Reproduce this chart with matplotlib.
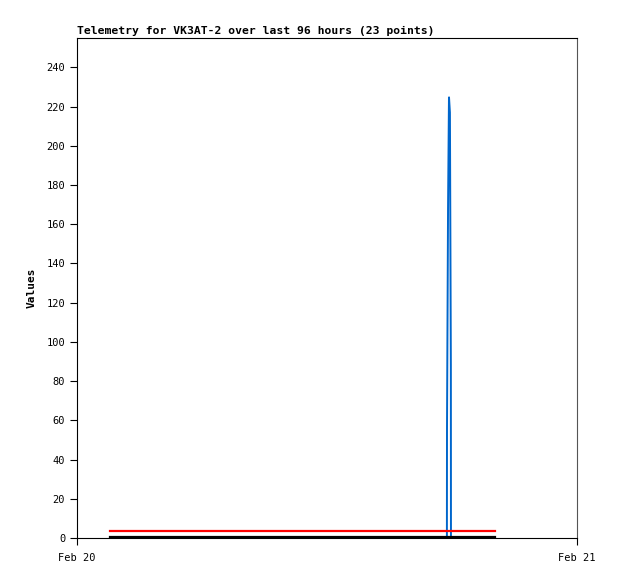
import matplotlib
matplotlib.use('Agg')
import matplotlib.pyplot as plt

# hours after Feb 20 00:00 for each telemetry point (23 points)
hours = [1.58, 3.0, 4.5, 6.0, 7.5, 9.0, 10.5, 12.0, 13.5, 15.0, 16.5, 17.2,
         17.755, 17.76, 17.81, 17.855, 17.90, 17.945, 17.95, 18.6, 19.2, 19.6, 20.06]
blue_vals = [0, 0, 0, 0, 0, 0, 0, 0, 0, 0, 0, 0,
             0, 56, 168, 225, 217, 88, 0, 0, 0, 0, 0]
red_vals = [3.7] * 23
black_vals = [0.4] * 23

x_ticks = [0, 24]
x_labels = ['Feb 20', 'Feb 21']
y_ticks = list(range(0, 241, 20))

plt.rcParams['font.family'] = 'DejaVu Sans Mono'

fig = plt.figure(figsize=(6.18, 5.79), dpi=100)
ax = fig.add_axes([77 / 618, 41 / 579, 500 / 618, 500 / 579])

ax.plot(hours, blue_vals, color='#0066cc', lw=1.4, solid_joinstyle='miter')
ax.plot(hours, red_vals, color='#ff0000', lw=1.6)
ax.plot(hours, black_vals, color='#000000', lw=1.6)

ax.set_xlim(0, 24)
ax.set_ylim(0, 255)
ax.set_xticks(x_ticks)
ax.set_xticklabels(x_labels)
ax.set_yticks(y_ticks)
ax.tick_params(axis='both', labelsize=7.5, length=5, width=0.8, direction='out')
ax.tick_params(axis='x', pad=6)
for s in ax.spines.values():
    s.set_linewidth(0.8)
ax.spines['right'].set_color('#555555')

ax.set_ylabel('Values', fontsize=8, fontweight='bold', labelpad=7)
ax.set_title('Telemetry for VK3AT-2 over last 96 hours (23 points)',
             fontsize=8.2, fontweight='bold', loc='left', pad=3)

fig.savefig('out.png', dpi=100)
